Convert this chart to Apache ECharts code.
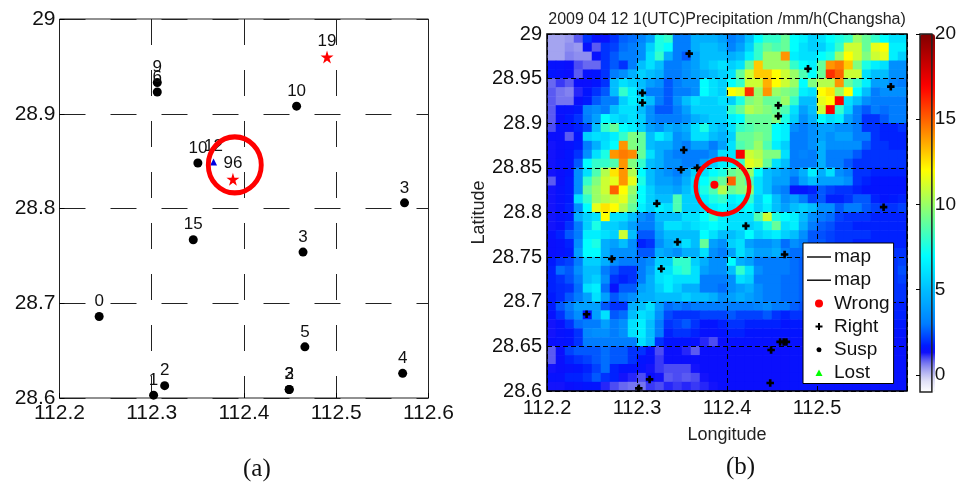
<!DOCTYPE html>
<html><head><meta charset="utf-8">
<script src="https://cdn.jsdelivr.net/npm/echarts@6/dist/echarts.min.js"></script>
<style>html,body{margin:0;padding:0;background:#fff}#c{width:959px;height:485px}</style>
</head><body><div id="c"></div>
<script>
// Panel (a) stations
const susLon = [112.243,112.302,112.314,112.449,112.449,112.466,112.572,112.464,112.574,112.345,112.350,112.457,112.306,112.306];
const susLat = [28.686,28.603,28.613,28.609,28.609,28.654,28.626,28.754,28.806,28.767,28.848,28.908,28.923,28.933];
const susCnt = ['0','1','2','2','3','5','4','3','3','15','10','10','6','9'];
const starLon = [112.388,112.490];
const starLat = [28.831,28.960];
const starCnt = ['96','19'];
const triLon = [112.367];
const triLat = [28.849];
const triCnt = ['12'];
// Panel (b) stations
const rightLon = [112.358,112.306,112.306,112.352,112.349,112.367,112.322,112.457,112.457,112.490,112.582,112.574,112.345,112.272,112.327,112.244,112.314,112.302,112.421,112.464,112.459,112.466,112.463,112.449,112.448];
const rightLat = [28.978,28.934,28.923,28.870,28.848,28.850,28.810,28.920,28.908,28.961,28.941,28.806,28.767,28.748,28.737,28.686,28.613,28.603,28.785,28.753,28.655,28.655,28.655,28.646,28.609];
const wrongLon = [112.386];
const wrongLat = [28.831];
const xTicks = [112.2,112.3,112.4,112.5,112.6];
const barTicks = [0,5,10,15,20];
// Precipitation, mm/h: rows from north to south, columns from west to east
const precip = [
[.3,.3,.4,.9,2,1.5,1.5,2,2.6,2.8,3.2,4,7.5, 8,3,3,4.5,4.5,4.5,4,3,3.5,5,7,8,8,9, 7,6.5,5.5,6,7,7.5,8,10,9,8,7,6,6],
[.3,.3,.5,.4,1.5,.9,2,2.2,2.8,3,3.5,5.5,7.5, 7,3,3,4.5,5,5,4.5,3.2,4,5.5,8,9,8.5,9, 7,6,5.5,5.5,6.5,8,11,11,9,11.5,12,6.5,6.5],
[.3,.3,.6,.5,.5,1.5,2,2.5,3,3,3.5,6,8, 4.5,3,2.5,4,5,5,5,4.5,5,6.5,8,10,10,14, 6.5,6,6,7,7.5,10,12,11,9.5,11,11.5,6.5,5.5],
[1.5,1.5,1.4,1,.8,.8,2,2.5,2,3,5,6,5, 3,3,3.5,4,5,5.5,6,5.5,6,9,13,10,10,10, 8,7,6.5,9,14,14.5,13,9.5,7.5,6.5,6,3.5,3.5],
[1.6,1.5,1.4,.9,1.5,1.6,2,3,3.5,4.5,5.5,5,4.5, 3,3,3.5,4,4.5,5,5.5,6,9,11,13,13,12,11, 10,8.5,7,9,16,15,11,11,6,5,5,3.5,3.5],
[.8,1.1,.9,1.4,1.4,1.6,2,5,6,5.5,5,4,3.5, 2.5,3,3.5,3.5,7,6,5.5,7,8,11,11,13.5,12,11, 10,7,9.5,10.5,10.5,14,9,8,6.5,4,4,3.2,3],
[.9,.7,.6,1.2,1.6,2,2.5,5,8,6.5,5,3,3, 2.5,3,3,3.5,7,6,5.5,12,11.5,16,10,14,10,9.5, 9,6.5,6,12,12.5,10,12,7,5,3,3.5,3.5,3.5],
[.9,.7,.7,1.4,1.7,2.5,3,3,5.5,6.5,6,5,3, 2.5,3.5,5,6,5.5,5.5,6,5.5,7.5,9.5,10,9,9,10, 8,5,5,11.5,12,17,6,5,3.5,3,3,3,3],
[.9,1.5,1.5,1.7,3.2,3.5,3,5,6,6,5,3.5,2.5, 2.5,3,4,5.5,5.5,5.5,5.5,8,9,10.5,10,9.5,9,8.5, 6,4,5,11,17,8,5.5,3,2.5,3,2.8,3,3],
[.9,1.4,1.7,2,3,4,7,6,5.5,6,5.5,3.5,3, 3,3,3.5,4.5,5,5.5,5.5,6.5,7,9,9,9,9.5,7.5, 5.5,3.5,4.5,7,6,6.5,4,3,2,2,2.5,3,3],
[1,1.5,1.5,1.8,2.2,5,8,9,7,6.5,5.5,4,3.5, 4.5,4,4.5,6,7.5,5.5,5,6,8,8.5,9,9,7,6.5, 3.5,3,3.5,4,4,3.5,3.5,3,2,2,1.8,1.8,2],
[1.4,1.4,.9,1.6,5.5,6,5.8,6.5,8,9.5,9,5,6.5, 5.5,3.5,4,6,6,5,4.5,5.5,9,9,9.5,9,7,6.5, 3,3,3.5,4,3.5,4,4,3,3,2,1.8,1.8,1.8],
[1.3,1.4,1.5,1.7,3,4.5,6,7,14,9.5,9,5,4.5, 4.5,3.5,3,4,4,3,4,6,8.5,9,10,8.5,6.5,5.5, 3,3,3.5,4.5,3.5,3.5,3.5,3.5,2.5,2,2,1.8,1.8],
[1.3,1.4,1.6,2,3.5,6,7.5,14,14.5,14.2,9,6,4.5, 3.5,3,3,3,3,3.5,6,6,17,11,10.5,9.5,9.5,6, 3,3.2,3,4.5,3,3,3,2.5,2,2,2,2,2],
[1.3,1.5,1.6,2.5,7,8,8,8.5,14,9.5,8,5,4.5, 3.5,3.5,3,3,4,5.5,6.5,7,8,11.5,11,9,6,5, 3,3,3,4.5,3,3,2.5,2,2,2,2,2,2],
[1.3,1.4,1.6,3.5,6,8.5,10.5,12.5,14,10.5,7,5,4, 3.5,3,4,5.5,6,7,7.5,9,9.5,10,7,5,4.5,4, 3.5,4.5,6.5,4.5,6,3.5,3,2,2,1.8,1.8,1.8,1.8],
[.9,1.4,1.7,3.5,8,9.5,11,11.5,14,11.5,7.5,5,4, 4,3.5,4.5,6,7,8,9,15,9.5,8.5,6,5,4,4, 2.8,4,5,4,4,4,3.5,2,1.8,1.6,1.6,1.6,1.6],
[1.3,1.5,1.7,3.5,9,10,11,15,12,10,7,5.5,4.5, 4.5,4,5,6,7.5,8.5,10.5,9,9.5,10,6,5,3.5,3, 1.5,1.6,1.8,2.5,2.2,2,2,1.8,1.6,1.6,1.6,1.6,1.6],
[1.3,1.5,1.7,6,8,10,10.5,11,11.5,9.5,7,5.5,5, 5,8.5,5.5,5.5,6.5,7.5,8,6.5,7,8,5.5,7,5,3.5, 4,3,2.2,2.5,1.8,1.8,2,2.5,2.5,1.8,1.6,1.7,1.8],
[1.3,1.5,1.8,3.5,7,11.5,12.5,12,10.5,9,6.5,5.5,6.5, 6,8.5,5.5,5.5,6,6.5,7,6,6.5,7,5.5,6.5,5,4, 5,5.5,5,3.5,3.5,2.5,3,3,2.5,2.2,2,2,2.2],
[1.3,1.5,1.7,4.5,5.5,6,12,6,6,5,3.5,3,5, 5,5,6,6,7,8,6.5,6,6,6,8.5,11,7.5,7, 6.5,5,3.5,3,2.8,2.2,2,2,2,1.8,1.8,1.8,1.8],
[1.3,1.4,2,3,5.5,7.5,5.5,5.5,5,4,3,3,4.5, 6,6,5.5,6,6.5,7,6.5,6,6,5.5,6,7.5,9,6, 6.5,4.5,3,2.6,2.4,2,2,1.8,1.8,1.8,1.8,1.8,1.8],
[1.5,1.8,2.5,3,6.5,6.5,6,5.5,11,5,2.5,2.5,4, 5,5,5,5,7,6,5,5,5.5,7,5.5,6,6.5,5.5, 5,3.5,2.5,2.4,2.2,2,2,2,2,1.8,1.8,1.8,1.8],
[1.4,1.5,1.8,3.5,7,7.5,4.5,4,5,3.5,1.8,2,3.5, 4.5,5,6,5,9,4,3.5,5.5,6,4,3.5,3.5,4,2.8, 3.5,3,2.5,2.5,2.2,2,2,1.8,1.8,1.8,1.8,1.8,1.8],
[1.4,1.5,1.7,4,7,7,4.5,3.5,3.5,3.5,2.5,2.5,4.5, 4,3.5,4.5,4.5,6,3.5,3,4,6,5,4,4,4.5,3.2, 2.8,2.8,2.4,2.2,2,2,2,2,2,2,2,2,2],
[1.7,2,2.2,3,5.5,5.5,4.5,3.5,3,3,3,3.5,5.5, 5.5,8,8,5.5,4.5,3.5,3.5,7,4.5,4,3,3,3,3, 2.8,2.6,2.3,2.2,2,2,2,2,2,2,2,2,2.2],
[1.8,2.8,2.5,3.5,5,5,3,2.5,2,2,3,4,6, 6,7.5,8,6,4,3.5,3.5,5,8,6,3.5,3,3,3, 2.8,2.6,2.3,2.2,2,2,2,2,2,2,2,2,2.4],
[1.8,2,2.4,3,5,5.5,3.5,2,1.8,2,3,4.5,6, 6.5,6,6,6,3,3,3,3.5,6,5.5,3,3,3,2.8, 2.8,2.6,2.3,2.2,2,2,2,2,2,2,2,2,2.2],
[1.8,1.9,2,2.8,6,6.5,2.8,1.5,2.5,2.5,4,4.5,5.5, 6.5,5.5,4.5,4.5,3,3,2.8,3.5,4,4.5,3.5,3,3,2.8, 2.8,2.6,2.3,2.2,2,2,2,2,2,2,2,2,2],
[1.7,1.9,2.5,3,4,6,4,2.5,3,3.5,4.5,4.5,5, 5,5,5.5,5,5,4.5,3.5,4,4.5,4,3.5,3,3,2.8, 2.8,2.6,2.3,2.2,2,2,2,2,2,2,2,2,2],
[1.7,2.5,3,4,4,4,2.5,2,2,4.5,5,6,4, 2.8,3,2.8,3,3,3,3,3,3,3,3.2,3.5,3,3, 2.6,2.4,2.2,2,2,2,2,1.8,1.8,1.8,1.8,1.8,1.8],
[1.5,2,2.8,3.5,1.6,4,6,2.5,2.8,5,6,5.5,3.5, 2.3,2,2,2,2.2,2.2,2.2,2.5,2.2,2.2,2.2,2.5,2,1.8, 2,2,2,2,1.8,1.8,1.8,1.8,1.8,1.8,1.8,1.8,1.8],
[1.3,1.5,2,2.8,3,3,4,3,3.5,6,6.5,5,3, 2,2.2,2.5,2,1.6,1.6,1.8,2,2,1.8,1.8,1.8,1.8,1.6, 1.7,1.7,1.7,1.7,1.7,1.7,1.7,1.7,1.7,1.7,1.7,1.7,1.7],
[1.3,1.5,1.6,2,3.3,3.5,3.5,3,3.5,6,6.5,5,3, 1.8,2,2,1.8,1.5,1.5,1.6,1.8,1.8,1.6,1.6,1.6,1.6,1.6, 1.6,1.6,1.6,1.6,1.6,1.6,1.6,1.6,1.6,1.6,1.6,1.6,1.6],
[1.4,1.5,1.6,2,3,3,3,3,3,3,6,5,2, 1.6,1.6,1.6,1.5,1.2,1,1.4,1.5,1.5,1.5,1.5,1.5,1.5,1.5, 1.5,1.5,1.5,1.5,1.5,1.5,1.5,1.5,1.5,1.5,1.5,1.5,1.5],
[.9,1.4,2.2,2.5,2.5,2.5,2.8,2.5,2.5,2,2,1.5,1, 1.4,1.4,1.2,.9,1.4,1.4,1.4,1.4,1.4,1.4,1.4,1.4,1.4,1.4, 1.5,1.5,1.5,1.5,1.5,1.5,1.5,1.5,1.5,1.5,1.5,1.5,1.5],
[.9,1.4,1.8,2,2.2,2.5,2.8,2.5,2.5,2,1.6,1.5,1.1, 1.4,1.4,1.4,1.4,1.4,1.4,1.4,1.4,1.4,1.4,1.4,1.4,1.4,1.4, 1.5,1.5,1.5,1.5,1.5,1.5,1.5,1.5,1.5,1.5,1.5,1.5,1.5],
[1.3,1.4,1.5,1.6,1.8,2.2,2.8,1.8,1.6,1.6,1.5,1.3,1.1, 1,1,1,1.3,1.4,1.4,1.4,1.4,1.4,1.4,1.4,1.4,1.4,1.4, 1.5,1.5,1.5,1.5,1.5,1.5,1.5,1.5,1.5,1.5,1.5,1.5,1.5],
[1.5,1.5,1.8,1.8,2,2.5,2,1.8,1.3,1.2,1,1.4,1.3, .9,1,.9,1,1.3,1.4,1.4,1.4,1.4,1.4,1.4,1.4,1.4,1.4, 1.5,1.5,1.5,1.5,1.5,1.5,1.5,1.5,1.5,1.5,1.5,1.5,1.5],
[1.3,1.3,1.4,1.5,1.6,1.6,1.2,1,.8,.7,.7,1.1,1, 1.2,1.1,1.2,1.1,1.2,1.3,1.4,1.4,1.4,1.4,1.4,1.4,1.4,1.4, 1.5,1.5,1.5,1.5,1.5,1.5,1.5,1.5,1.5,1.5,1.5,1.5,1.5]
];

const SANS = '"Liberation Sans",Arial,sans-serif';
const SERIF = '"Liberation Serif","Times New Roman",serif';
const colorStops = [[-1,[255,255,255]],[-.3,[220,220,246]],[.3,[165,165,240]],[.9,[95,95,240]],[1.4,[0,0,255]],[2,[0,50,255]],[3,[0,125,255]],[4,[0,160,255]],[5,[0,190,255]],[6,[0,225,255]],[7,[0,255,255]],[9.5,[128,255,128]],[12,[255,255,0]],[14.4,[255,128,0]],[16.9,[255,0,0]],[20,[128,0,0]]];
function cmap(n){const out=[];for(let i=0;i<n;i++){const v=-1+21*i/(n-1);let j=0;while(j<colorStops.length-2&&v>colorStops[j+1][0])j++;const a=colorStops[j],b=colorStops[j+1],t=(v-a[0])/(b[0]-a[0]);out.push('rgb('+a[1].map((c,k)=>Math.round(c+(b[1][k]-c)*t)).join(',')+')');}return out;}

const pts=(xs,ys,ls)=>xs.map((x,i)=>ls?[x,ys[i],ls[i]]:[x,ys[i]]);
const STAR='path://M50,0 L61,35 98,35 68,57 79,91 50,70 21,91 32,57 2,35 39,35Z';
const PLUS='path://M2.6,0h2.8v2.6h2.6v2.8h-2.6v2.6h-2.8v-2.6h-2.6v-2.8h2.6z';
const lab={show:true,position:'top',distance:2,fontFamily:SANS,fontSize:17,color:'#111',formatter:p=>p.value[2]};
const heat=[];precip.forEach((row,r)=>row.forEach((v,c)=>heat.push([c,r,v])));
const idx=Array.from({length:40},(_,i)=>String(i));

const valAxis=(o)=>Object.assign({type:'value',axisLine:{show:false},axisTick:{show:true,inside:true,length:5,lineStyle:{color:'#000'}},axisLabel:{fontFamily:SANS,fontSize:21,color:'#111'}},o);

const option={
 animation:false,backgroundColor:'#fff',
 title:{text:'2009 04 12 1(UTC)Precipitation /mm/h(Changsha)',left:727,top:12,textAlign:'center',padding:0,textStyle:{fontFamily:SANS,fontSize:16,fontWeight:'normal',color:'#222'}},
 grid:[
  {left:59.5,top:19,width:369,height:379,show:true,borderColor:'#222',borderWidth:1},
  {left:547,top:34,width:360,height:357,show:true,borderColor:'#000',borderWidth:1.5,z:3},
  {left:920,top:34,width:15,height:358,show:true,borderColor:'#222',borderWidth:1.5,z:3}
 ],
 xAxis:[
  valAxis({gridIndex:0,min:112.2,max:112.6,interval:.1,axisLabel:{fontFamily:SANS,fontSize:21,color:'#111',margin:5,customValues:xTicks},splitLine:{show:true,lineStyle:{color:'#222',width:1,type:[26,25]}}}),
  valAxis({gridIndex:1,z:3,min:112.2,max:112.6,interval:.1,name:'Longitude',nameLocation:'middle',nameGap:35,nameTextStyle:{fontFamily:SANS,fontSize:18,color:'#222'},axisLabel:{fontFamily:SANS,fontSize:20,color:'#111',margin:7,showMaxLabel:false},splitLine:{show:true,lineStyle:{color:'#000',width:1,type:[5,3]}}}),
  {type:'category',gridIndex:1,show:false,data:idx},
  {type:'value',gridIndex:2,show:false,min:0,max:1}
 ],
 yAxis:[
  valAxis({gridIndex:0,min:28.6,max:29,interval:.1,axisLabel:{fontFamily:SANS,fontSize:21,color:'#111',margin:4},splitLine:{show:true,lineStyle:{color:'#222',width:1,type:[26,25]}}}),
  valAxis({gridIndex:1,z:3,min:28.6,max:29,interval:.05,name:'Latitude',nameLocation:'middle',nameGap:49,nameTextStyle:{fontFamily:SANS,fontSize:18,color:'#222'},axisLabel:{fontFamily:SANS,fontSize:20,color:'#111',margin:5},splitLine:{show:true,lineStyle:{color:'#000',width:1,type:[5,3]}}}),
  {type:'category',gridIndex:1,show:false,inverse:true,data:idx},
  {type:'value',gridIndex:2,position:'right',z:3,min:-1,max:20,axisLine:{show:false},splitLine:{show:false},
   axisTick:{show:true,inside:true,length:4,customValues:barTicks,lineStyle:{color:'#000'}},
   axisLabel:{fontFamily:SANS,fontSize:19,color:'#111',margin:3,customValues:barTicks}}
 ],
 visualMap:{type:'continuous',seriesIndex:0,min:-1,max:20,left:920,top:34,itemWidth:15,itemHeight:358,padding:0,calculable:false,showLabel:false,text:null,hoverLink:false,inRange:{color:cmap(64)},z:1},
 legend:{show:true,orient:'vertical',left:803,top:243,padding:[4.5,4,1,4],itemWidth:24,itemHeight:14,itemGap:4.2,selectedMode:false,backgroundColor:'#fff',borderColor:'#000',borderWidth:1,z:10,
  textStyle:{fontFamily:SANS,fontSize:19,color:'#111',padding:[0,0,0,-2]},
  data:[
   {name:'map',icon:'path://M0 0M24 14M0 6.3H24V7.7H0z'},{name:'map ',icon:'path://M0 0M24 14M0 6.3H24V7.7H0z'},
   {name:'Wrong',icon:'path://M0 0M24 14M12 3a4 4 0 1 0 .01 0z'},
   {name:'Right',icon:'path://M0 0M24 14M11 3.5h2v2.5h2.5v2h-2.5v2.5h-2v-2.5h-2.5v-2h2.5z'},
   {name:'Susp',icon:'path://M0 0M24 14M12 4.5a2.5 2.5 0 1 0 .01 0z'},
   {name:'Lost',icon:'path://M0 0M24 14M12 3.5l3.5 6.5h-7z'}
  ]},
 graphic:[
  {type:'text',left:243,top:457,style:{text:'(a)',font:'25px '+SERIF,fill:'#111'}},
  {type:'text',left:726,top:455,style:{text:'(b)',font:'25px '+SERIF,fill:'#111'}}
 ],
 series:[
  {type:'heatmap',xAxisIndex:2,yAxisIndex:2,data:heat,z:2,emphasis:{disabled:true},progressive:0},
  {name:'map',type:'line',xAxisIndex:1,yAxisIndex:1,data:[],symbol:'none',lineStyle:{color:'#000',width:1},itemStyle:{color:'#000'}},
  {name:'map ',type:'line',xAxisIndex:1,yAxisIndex:1,data:[],symbol:'none',lineStyle:{color:'#000',width:1},itemStyle:{color:'#000'}},
  {name:'Wrong',type:'scatter',xAxisIndex:1,yAxisIndex:1,z:5,data:pts(wrongLon,wrongLat),symbolSize:8,itemStyle:{color:'#ff0000',opacity:1}},
  {name:'Right',type:'scatter',xAxisIndex:1,yAxisIndex:1,z:5,data:pts(rightLon,rightLat),symbol:PLUS,symbolSize:7.5,itemStyle:{color:'#000',opacity:1}},
  {name:'Susp',type:'scatter',xAxisIndex:1,yAxisIndex:1,data:[],itemStyle:{color:'#000',opacity:1}},
  {name:'Lost',type:'scatter',xAxisIndex:1,yAxisIndex:1,data:[],itemStyle:{color:'#00ff00',opacity:1}},
  {type:'scatter',xAxisIndex:1,yAxisIndex:1,z:6,data:[[112.395,28.829]],symbolSize:[53.5,55.5],silent:true,itemStyle:{color:'rgba(0,0,0,0)',borderColor:'#ff0000',borderWidth:4.5,opacity:1}},
  {type:'scatter',xAxisIndex:0,yAxisIndex:0,z:4,data:pts(susLon,susLat,susCnt),symbolSize:9,itemStyle:{color:'#000',opacity:1},label:lab},
  {type:'scatter',xAxisIndex:0,yAxisIndex:0,z:4,data:pts(starLon,starLat,starCnt),symbol:STAR,symbolSize:13,itemStyle:{color:'#ff0000',opacity:1},label:Object.assign({},lab,{distance:1})},
  {type:'scatter',xAxisIndex:0,yAxisIndex:0,z:4,data:pts(triLon,triLat,triCnt),symbol:'triangle',symbolSize:7,itemStyle:{color:'#0000e0',opacity:1},label:Object.assign({},lab,{distance:4})},
  {type:'scatter',xAxisIndex:0,yAxisIndex:0,z:6,data:[[112.39,28.846]],symbolSize:[53,56],silent:true,itemStyle:{color:'rgba(0,0,0,0)',borderColor:'#ff0000',borderWidth:5,opacity:1}}
 ]
};
echarts.init(document.getElementById('c'),null,{renderer:'canvas'}).setOption(option);
</script>
</body></html>
